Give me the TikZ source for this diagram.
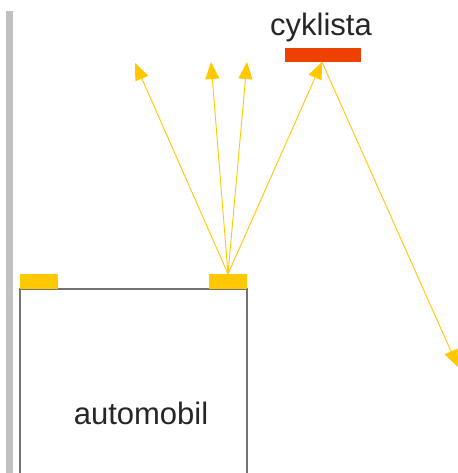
\documentclass[tikz,border=0pt]{standalone}
\usepackage{fontspec}
\setmainfont{Liberation Sans}
\usetikzlibrary{arrows.meta}
\definecolor{lamp}{HTML}{FFC800}
\definecolor{bike}{HTML}{EE4000}
\definecolor{wall}{HTML}{C0C0C0}
\definecolor{ray}{HTML}{FFC800}
\tikzset{
  x=1pt, y=-1pt,
  lampbox/.style={fill=lamp, draw=none},
  raystyle/.style={draw=ray, line width=0.9pt, -{Triangle[length=17pt,width=14pt]}},
  lbl/.style={font=\fontsize{31}{36}\selectfont, text=black!85, inner sep=0pt}
}
\begin{document}
\begin{tikzpicture}
\useasboundingbox (0,0) rectangle (457,473);
% wall
\fill[wall] (6,11) rectangle (13,473);
% car
\draw[draw=black!55, line width=1.4pt] (20,480) -- (20,289) -- (247,289) -- (247,480);
\fill[lamp] (20,274) rectangle (58,289);
\fill[lamp] (209,274) rectangle (247,289);
% cyclist
\fill[bike] (285,48) rectangle (361,62);
\node[lbl] (cyk) at (321,27) {cyklista};
\node[lbl] (auto) at (141,413) {automobil};
% rays
\coordinate (src) at (228,274);
\coordinate (r1) at (135,63);
\coordinate (r2) at (211,62);
\coordinate (r3) at (247,62);
\coordinate (hit) at (322,62);
\coordinate (out) at (458,367);
\draw[raystyle] (src) -- (r1);
\draw[raystyle] (src) -- (r2);
\draw[raystyle] (src) -- (r3);
\draw[raystyle] (src) -- (hit);
\draw[raystyle] (hit) -- (out);
\end{tikzpicture}
\end{document}
